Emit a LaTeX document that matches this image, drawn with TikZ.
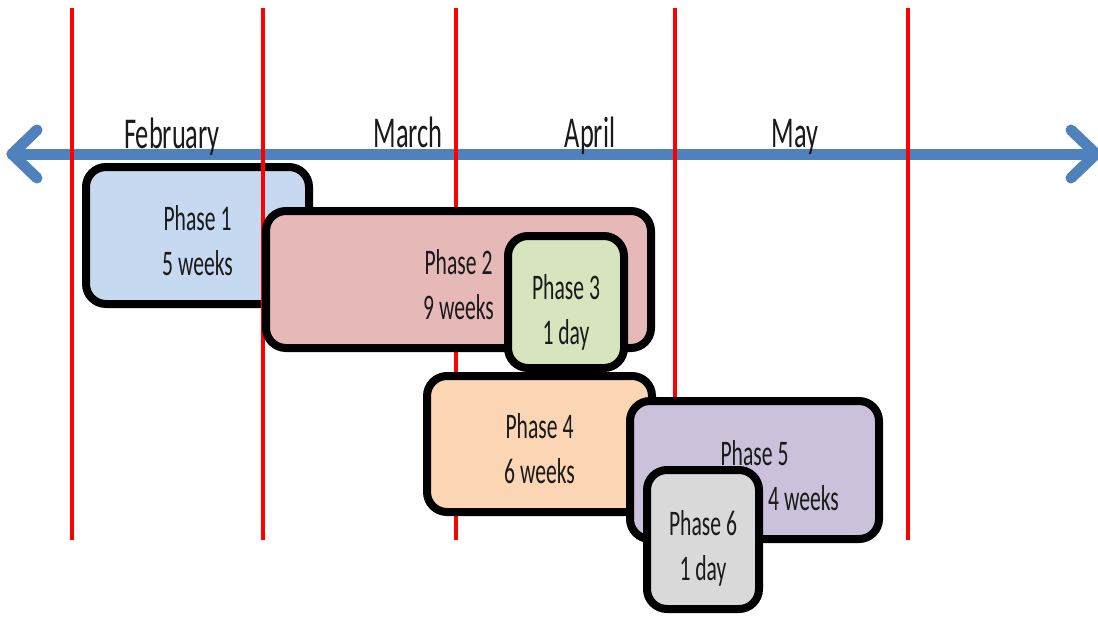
\documentclass[tikz,border=0pt]{standalone}
\usepackage{fontspec}
\setmainfont{Carlito}[FakeStretch=0.6]
\usetikzlibrary{shadows}
\definecolor{axisblue}{HTML}{4F81BD}
\definecolor{c1}{HTML}{C6D9F1}
\definecolor{c2}{HTML}{E6B9B8}
\definecolor{c3}{HTML}{D7E4BD}
\definecolor{c4}{HTML}{FCD5B5}
\definecolor{c5}{HTML}{CCC1DA}
\definecolor{c6}{HTML}{D9D9D9}
\definecolor{txt}{HTML}{1A1A1A}
\tikzset{
  axisline/.style={draw=axisblue, line width=11pt, line cap=round, line join=round},
  monthline/.style={draw=red, line width=4pt},
  month/.style={text=txt, font=\fontsize{44}{50}\selectfont, anchor=base, inner sep=0pt},
  phasebox/.style={draw=black, line width=8pt, rounded corners=20pt, inner sep=0pt,
    text=txt, align=center, font=\fontsize{36}{45}\selectfont,
    drop shadow={opacity=0.25, shadow xshift=2pt, shadow yshift=-3pt}},
}
\begin{document}
\begin{tikzpicture}[x=1pt, y=-1pt]
\useasboundingbox (0,0) rectangle (1098,616);
% timeline axis
\coordinate (axl) at (12,154);
\coordinate (axr) at (1096,154);
\draw[axisline] (axl) -- (axr);
\draw[axisline] (37,130) -- (axl) -- (37,178);
\draw[axisline] (1071,130) -- (axr) -- (1071,178);
% month labels
\node[month] (feb) at (172,148) {February};
\node[month] (mar) at (408,147) {March};
\node[month] (apr) at (590,147) {April};
\node[month] (may) at (795,147) {May};
% phase 1 (under the month lines)
\node[phasebox, fill=c1, minimum width=223pt, minimum height=137pt] (p1) at (197.5,235.5) {\rule{0pt}{35pt}Phase 1\\5 weeks};
% month separator lines
\foreach \x/\n in {72/m1, 263/m2, 456/m3, 675/m4, 908/m5} {
  \coordinate (\n t) at (\x,8);
  \coordinate (\n b) at (\x,540);
  \draw[monthline] (\n t) -- (\n b);
}
% phases 2-6
\node[phasebox, fill=c2, minimum width=385pt, minimum height=137pt] (p2) at (458.5,279.5) {\rule{0pt}{35pt}Phase 2\\9 weeks};
\node[phasebox, fill=c3, minimum width=116pt, minimum height=132pt] (p3) at (566,302) {\rule{0pt}{46pt}Phase 3\\1 day};
\node[phasebox, fill=c4, minimum width=225pt, minimum height=136pt] (p4) at (539.5,444) {\rule{0pt}{35pt}Phase 4\\6 weeks};
\node[phasebox, fill=c5, minimum width=249pt, minimum height=138pt] (p5) at (754.5,470) {\rule{0pt}{37pt}Phase 5\\\hspace*{98pt}4 weeks};
\node[phasebox, fill=c6, minimum width=112pt, minimum height=139pt] (p6) at (703,539.5) {\rule{0pt}{42pt}Phase 6\\1 day};
\end{tikzpicture}
\end{document}
